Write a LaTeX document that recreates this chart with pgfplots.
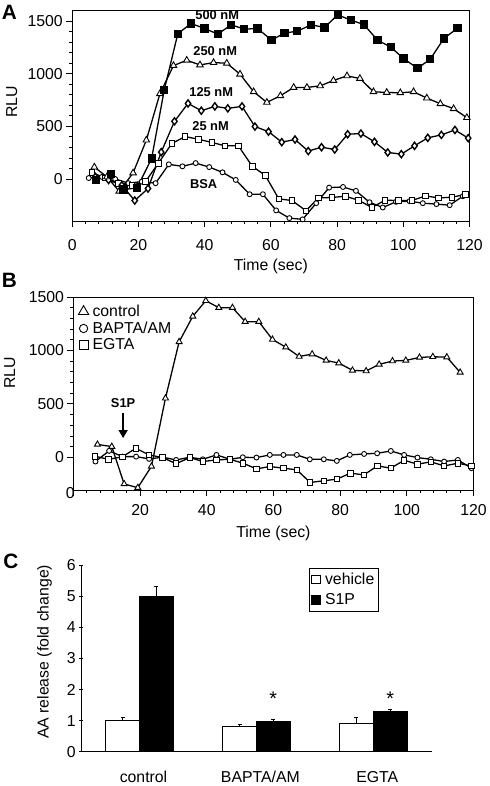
\documentclass[border=0pt]{standalone}
\usepackage{fontspec}
\setmainfont{Liberation Sans}
\usepackage{pgfplots}
\pgfplotsset{compat=1.18}
\usetikzlibrary{arrows.meta}

\pgfplotstableread{
x y
7.2 -13
11.7 50
15.5 -100
19.6 -85
24 195
27.8 844
31.9 1380
35.9 1478
40 1430
44 1377
48 1465
52 1424
56 1430
60.2 1320
64.1 1386
68 1405
72.2 1465
76.2 1440
80.2 1560
84.2 1509
88.1 1468
92.2 1320
96.2 1254
100.1 1144
104.3 1052
108.1 1137
112.3 1336
116.4 1434
}\tabA

\pgfplotstableread{
x y
6.7 113
10.5 20
14.2 -117
18.4 57
22.4 369
26.5 810
30.6 1078
34.6 1128
38.6 1084
42.7 1106
46.7 1100
50.7 996
54.8 829
58.8 728
62.9 791
66.9 870
70.9 870
74.9 885
78.9 936
83 980
86.9 955
91 829
95 822
99.1 819
103.1 829
107.1 769
111.2 715
115.2 668
119.2 583
}\tabB

\pgfplotstableread{
x y
7 20
11 -10
15 -60
18.9 -205
22.9 -91
26.9 255
30.9 548
35 718
39 649
43.1 690
47 671
51.3 690
55.2 498
59.3 450
63.3 350
67.3 375
71.3 265
75.3 302
79.3 280
83.2 425
87.2 432
91.3 353
95.3 252
99.4 236
103.4 315
107.4 391
111.5 419
115.6 466
119.6 388
}\tabC

\pgfplotstableread{
x y
6 60
10 10
14 -40
18 -60
22.2 -22
26 148
30.1 337
34.1 403
38.1 378
42.2 347
46.2 315
50.2 315
54.4 120
58.3 35
62.4 -189
66.4 -205
70.6 -302
74.4 -180
78.4 -176
82.5 -164
86.5 -202
90.5 -271
94.5 -202
98.6 -205
102.6 -205
106.7 -161
110.7 -180
114.7 -173
118.7 -148
}\tabD

\pgfplotstableread{
x y
5 9
9 20
13 0
17 -40
21 -25
25.2 -40
29.2 139
33.3 120
37.3 151
41.4 113
45.4 63
49.4 -9
53.6 -145
57.6 -145
61.6 -299
65.6 -372
69.6 -384
73.7 -230
77.6 -82
81.8 -76
85.7 -113
89.8 -221
93.8 -271
97.8 -217
101.9 -211
105.9 -230
110 -239
114 -249
118 -164
}\tabE

\pgfplotstableread{
x y
7.2 120
11.5 100
15.2 -250
19.3 -285
23.4 -85
27.6 553
31.7 1081
35.8 1320
39.7 1466
43.6 1401
47.7 1401
51.5 1270
55.6 1270
59.7 1103
63.7 1031
67.7 944
71.6 966
75.8 907
79.6 882
83.7 814
87.8 808
91.7 870
95.7 901
99.7 907
103.8 935
107.8 941
112 938
116 795
}\tabBa

\pgfplotstableread{
x y
6.6 -40
10.7 60
14.7 6
18.8 6
22.7 -15
26.8 0
30.8 -25
34.9 0
38.8 -19
42.9 22
47 -19
50.8 0
54.9 -3
58.9 22
63 22
67 22
70.9 -19
75.1 -19
79 -34
82.9 22
87.2 31
91.1 37
95.2 59
99.2 22
103.2 -3
107.2 -19
111.2 -40
115.3 -25
119.4 -102
}\tabBb

\pgfplotstableread{
x y
6.5 10
10.5 -20
14.7 5
18.7 84
22.7 22
26.7 -3
30.8 -60
34.9 -3
38.8 -40
42.9 -25
46.9 -19
50.9 -56
54.9 -109
58.9 -87
63 -102
67 -118
71 -236
75.1 -220
79 -205
83.1 -149
87.1 -165
91.2 -81
95.2 -102
99.2 -28
103.2 -65
107.2 -43
111.2 -81
115.3 -56
119.4 -81
}\tabBc

\begin{document}
\begin{tikzpicture}
\path (0bp,0bp) rectangle (486bp,-786bp);
\pgfplotsset{
  base/.style={scale only axis, clip=false,
    tick align=outside, tick pos=left,
    tick label style={font=\fontsize{16}{19}\selectfont},
    label style={font=\fontsize{16}{19}\selectfont},
    /pgf/number format/assume math mode=true,
    /pgf/number format/1000 sep={},
    major tick length=6bp, minor tick length=3bp,
    axis line style={line width=1bp},
    every tick/.style={black, line width=0.8bp},
  },
  ser/.style={black, line width=1.3bp, mark options={solid, line width=0.9bp, fill=white}},
}
% ---------------- Panel A ----------------
\begin{axis}[base, at={(72.7bp,-222.7bp)}, anchor=south west,
  width=400.3bp, height=212bp,
  xmin=0, xmax=120, ymin=-400, ymax=1600,
  xtick={0,20,...,120}, ytick={0,500,1000,1500},
  minor x tick num=4, minor y tick num=4,
  xticklabel style={yshift=-9bp},
  xlabel={Time (sec)}, ylabel={RLU},
  xlabel style={at={(axis description cs:0.5,-0.216)}, anchor=center},
  ylabel style={at={(axis description cs:-0.152,0.565)}, anchor=center},
]
\addplot[ser, mark=*, mark size=2.5bp] table {\tabE};
\addplot[ser, mark=square*, mark size=2.8bp] table {\tabD};
\addplot[ser, mark=diamond*, mark size=3.6bp, mark options={solid, fill=white, line width=1.4bp}] table {\tabC};
\addplot[ser, mark=triangle*, mark size=3.8bp] table {\tabB};
\addplot[ser, mark=square*, mark size=3.5bp, mark options={solid, fill=black}] table {\tabA};
\begin{scope}[every node/.style={font=\fontsize{13}{15}\selectfont\bfseries}]
\node at (axis cs:43.8,1553) {500 nM};
\node at (axis cs:43.2,1216) {250 nM};
\node at (axis cs:42,829) {125 nM};
\node at (axis cs:41.8,507) {25 nM};
\node at (axis cs:39.7,-51) {BSA};
\end{scope}
\end{axis}
% ---------------- Panel B ----------------
\begin{axis}[base, at={(74bp,-494bp)}, anchor=south west,
  width=403bp, height=194.7bp,
  xmin=0, xmax=120, ymin=-310, ymax=1500,
  xtick={0,20,...,120}, xticklabels={,20,40,60,80,100,120},
  xticklabel style={yshift=-5bp},
  ytick={0,500,1000,1500},
  minor x tick num=4, minor y tick num=4,
  xlabel={Time (sec)}, ylabel={RLU},
  xlabel style={at={(axis description cs:0.5,-0.221)}, anchor=center},
  ylabel style={at={(axis description cs:-0.159,0.607)}, anchor=center},
  legend style={draw=none, fill=none, at={(0.0,0.975)}, anchor=north west,
    font=\fontsize{16}{19}\selectfont, row sep=0bp, inner sep=1bp},
  legend cell align=left,
  legend image code/.code={\path[draw=none,fill=none] (0bp,0bp) -- (16bp,0bp); \draw[#1] plot coordinates {(9bp,0bp)};},
]
\addplot[ser, mark=triangle*, mark size=3.5bp, legend image post style={mark size=6bp}] table {\tabBa};
\addlegendentry{control}
\addplot[ser, mark=*, mark size=2.5bp, legend image post style={mark size=4.2bp}] table {\tabBb};
\addlegendentry{BAPTA/AM}
\addplot[ser, mark=square*, mark size=2.8bp, legend image post style={mark size=4.5bp}] table {\tabBc};
\addlegendentry{EGTA}
\node[font=\fontsize{13}{15}\selectfont\bfseries] at (axis cs:14.9,503) {S1P};
\draw[-{Triangle[length=8bp,width=9bp]}, line width=1.6bp] (axis cs:14.9,415) -- (axis cs:14.9,180);
\node[font=\fontsize{16}{19}\selectfont, inner sep=0pt] at ([xshift=-3.3bp,yshift=-2.7bp]axis cs:0,-310) {0};
\end{axis}
% ---------------- Panel C ----------------
\begin{axis}[base, at={(81.7bp,-757.3bp)}, anchor=south west,
  width=353.3bp, height=187.8bp,
  xmin=-0.5, xmax=2.5, ymin=0, ymax=6,
  axis x line=bottom, axis y line=left,
  axis line style={-, line width=1bp},
  xtick={0,1,2}, xticklabels={control,BAPTA/AM,EGTA},
  xtick style={draw=none},
  xticklabel style={yshift=-14bp, xshift=4bp},
  ytick={0,1,...,6}, major tick length=4bp,
  ylabel={AA release (fold change)},
  ylabel style={at={(axis description cs:-0.104,0.536)}, anchor=center},
  legend style={draw=black, line width=1bp, at={(0.649,0.988)}, anchor=north west,
    font=\fontsize{16}{19}\selectfont, row sep=4bp, inner xsep=2bp, inner ysep=3bp},
  legend cell align=left,
]
\addplot[ybar, bar width=0.289, bar shift=0, fill=white, draw=black, line width=1bp,
  legend image code/.code={\draw[fill=white, draw=black, line width=1bp] (0bp,-4.5bp) rectangle (9bp,4.5bp);},
  error bars/.cd, y dir=plus, y explicit,
  error bar style={line width=1bp},
  error mark options={rotate=90, mark size=2bp, line width=1bp}]
  coordinates {(-0.1445,1.0) +- (0,0.1) (0.8555,0.81) +- (0,0.06) (1.8555,0.91) +- (0,0.19)};
\addlegendentry{\hspace{2bp}vehicle}
\addplot[ybar, bar width=0.289, bar shift=0, fill=black, draw=black, line width=1bp,
  legend image code/.code={\draw[fill=black, draw=black, line width=1bp] (0bp,-4.5bp) rectangle (9bp,4.5bp);},
  error bars/.cd, y dir=plus, y explicit,
  error bar style={line width=1bp},
  error mark options={rotate=90, mark size=2bp, line width=1bp}]
  coordinates {(0.1445,5.0) +- (0,0.33) (1.1445,0.96) +- (0,0.07) (2.1445,1.30) +- (0,0.06)};
\addlegendentry{\hspace{2bp}S1P}
\node[font=\fontsize{20}{20}\selectfont, anchor=north, inner sep=0pt] at (axis cs:1.1445,1.94) {*};
\node[font=\fontsize{20}{20}\selectfont, anchor=north, inner sep=0pt] at (axis cs:2.1445,1.94) {*};
\end{axis}
% ---------------- Panel letters ----------------
\begin{scope}[every node/.style={font=\fontsize{21}{21}\selectfont\bfseries, inner sep=0pt, anchor=north west}]
\node at (1.7bp,-5bp) {A};
\node at (1.7bp,-275bp) {B};
\node at (3.3bp,-558bp) {C};
\end{scope}
\end{tikzpicture}
\end{document}
